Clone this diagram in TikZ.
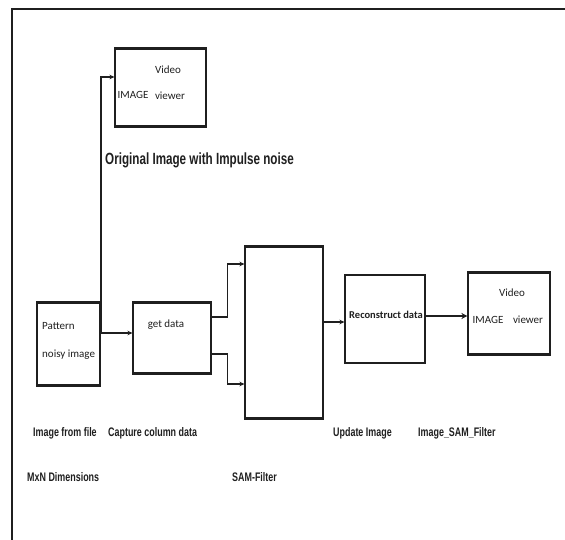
\documentclass[tikz,border=0pt]{standalone}
\usepackage{fontspec}
\setmainfont{Carlito}
\newfontfamily\lblfont[FakeStretch=0.72]{Liberation Sans}
\usetikzlibrary{arrows.meta}
\definecolor{ink}{gray}{0.12}
\tikzset{
  box/.style={draw=ink, line width=1.1pt, inner sep=0pt},
  boxtxt/.style={inner sep=0pt, font=\fontsize{11}{12}\selectfont, text=ink},
  lbl/.style={inner sep=0pt, anchor=west, font=\lblfont\bfseries\fontsize{12.4}{14}\selectfont, text=ink},
  arr/.style={draw=ink, line width=1.1pt, -{Stealth[length=5pt,width=4.5pt]}},
  thickarr/.style={draw=ink, line width=2.2pt, -{Stealth[length=6pt,width=6pt]}}
}
\begin{document}
\begin{tikzpicture}[x=1pt,y=-1pt]
\useasboundingbox (0,0) rectangle (565,540);
% frame
\draw[ink, line width=2pt] (12,540) -- (12,9) -- (565,9);
% boxes
\node[box, minimum width=91pt, minimum height=77pt] (v1) at (160.5,87.5) {};
\node[box, minimum width=63pt, minimum height=82pt] (pat) at (68.5,344) {};
\node[box, minimum width=78pt, minimum height=70pt] (gd) at (172,338) {};
\node[box, minimum width=78pt, minimum height=171pt] (sam) at (284,332.5) {};
\node[box, minimum width=80pt, minimum height=87pt] (rc) at (385,319) {};
\node[box, minimum width=82pt, minimum height=81pt] (v2) at (509,313.5) {};
\foreach \n in {v1,pat,gd,sam,rc,v2}{
  \draw[ink, line width=2.2pt] (\n.north west) -- (\n.north east) (\n.south west) -- (\n.south east);
}
% box texts
\node[boxtxt] (v1a) at (168,70) {Video};
\node[boxtxt] (v1b) at (133,95) {IMAGE};
\node[boxtxt] (v1c) at (170,96) {viewer};
\node[boxtxt, anchor=west] (pa) at (42,326) {Pattern};
\node[boxtxt, anchor=west] (pb) at (42,355) {noisy image};
\node[boxtxt] (gdt) at (166,325) {get data};
\node[boxtxt, font=\bfseries\fontsize{10.5}{12}\selectfont] (rct) at (386,315) {Reconstruct data};
\node[boxtxt] (v2a) at (512,293) {Video};
\node[boxtxt] (v2b) at (488,320) {IMAGE};
\node[boxtxt] (v2c) at (528,320) {viewer};
% title
\node[inner sep=0pt, anchor=west, font=\lblfont\bfseries\fontsize{16.2}{18}\selectfont, text=ink] (title) at (105,160) {Original Image with Impulse noise};
% labels
\node[lbl] (l1) at (33,433) {Image from file};
\node[lbl] (l2) at (108,433) {Capture column data};
\node[lbl] (l3) at (333,433) {Update Image};
\node[lbl] (l4) at (418,433) {Image\_SAM\_Filter};
\node[lbl] (l5) at (27,477) {MxN Dimensions};
\node[lbl] (l6) at (232,477) {SAM-Filter};
% connectors
\coordinate (j) at (101,333);
\draw[arr] ([yshift=11pt]pat.east) -- ([yshift=5pt]gd.west);
\draw[arr] (j) |- ([yshift=10.5pt]v1.west);
\draw[arr] ([yshift=21pt]gd.east) -- ++(16,0) |- ([yshift=68.5pt]sam.west);
\draw[arr] ([yshift=-16pt]gd.east) -- ++(16,0) |- ([yshift=-51.5pt]sam.west);
\draw[arr] ([yshift=10.5pt]sam.east) -- ([yshift=-3pt]rc.west);
\draw[thickarr] ([yshift=3pt]rc.east) -- ([yshift=-2.5pt]v2.west);
\end{tikzpicture}
\end{document}
